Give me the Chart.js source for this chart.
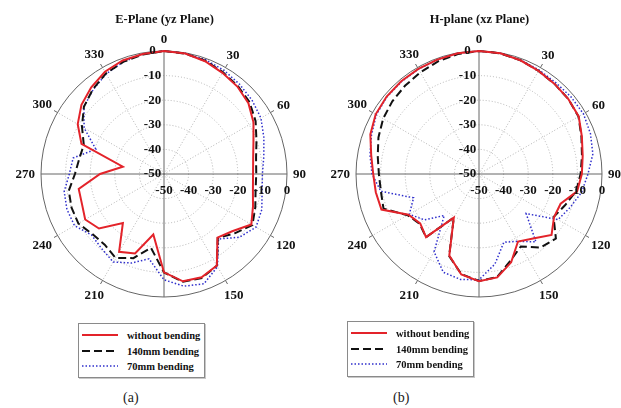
<!DOCTYPE html>
<html>
<head>
<meta charset="utf-8">
<script src="https://cdn.jsdelivr.net/npm/chart.js@4.4.1/dist/chart.umd.min.js"></script>
<style>
  body { margin: 0; background: #fff; width: 621px; height: 408px; position: relative; overflow: hidden; }
  .plot { position: absolute; top: 0; }
  .legend { position: absolute; border: 1px solid #8a8a8a; box-shadow: 1px 1px 0 #c8c8c8; background: #fff; box-sizing: border-box; }
  .legend .row { position: absolute; left: 0; height: 14px; display: flex; align-items: center; }
  .legend svg { margin-left: 3px; }
  .legend span { margin-left: 9px; font: bold 10.5px "Liberation Serif", serif; color: #111; white-space: nowrap; }
  .caption { position: absolute; top: 390px; font: 14px "Liberation Serif", serif; color: #222; }
</style>
</head>
<body>
<canvas id="ePlane" class="plot" style="left:0" width="320" height="305"></canvas>
<canvas id="hPlane" class="plot" style="left:310px" width="311" height="305"></canvas>
<div id="ePlaneLegend" class="legend" style="left:78px;top:323px;width:127px;height:55px"></div>
<div id="hPlaneLegend" class="legend" style="left:347px;top:321px;width:127px;height:56px"></div>
<div class="caption" style="left:123px">(a)</div>
<div class="caption" style="left:393px">(b)</div>
<script>
// angles in degrees, one value every 10 deg
const angles = [0, 10, 20, 30, 40, 50, 60, 70, 80, 90, 100, 110, 120, 130, 140, 150, 160, 170,
                180, 190, 200, 210, 220, 230, 240, 250, 260, 270, 280, 290, 300, 310, 320, 330, 340, 350];
const angleTicks = [0, 30, 60, 90, 120, 150, 180, 210, 240, 270, 300, 330];
const radialTicks = [-50, -40, -30, -20, -10, 0];
const seriesNames = ['without bending', '140mm bending', '70mm bending'];

// E-plane (yz plane), dB
const eWithout = [0, -0.3, -1.2, -2.5, -3.6, -5.2, -8, -11.3, -13.2, -13.8, -13.3, -11.5, -9, -13.8, -16.2, -7, -5.3, -5.7,
                  -10, -25, -15.6, -13.5, -24, -15.5, -13, -14.5, -14.8, -24, -33, -14.3, -9.5, -6.2, -4, -2, -0.9, -0.5];
const e140mm   = [0, -0.3, -1, -2.2, -3.3, -4.6, -7, -10, -12, -12.5, -12.2, -10.5, -8.5, -12.5, -16, -7, -5, -5.5,
                  -10, -19.5, -13.6, -10.6, -12.5, -12, -9.8, -10, -10.7, -13.8, -15, -15.3, -11.5, -7.5, -5, -2.8, -1.5, -0.7];
const e70mm    = [0, -0.2, -0.6, -1.3, -2.3, -3.3, -4.5, -6.8, -8.8, -10, -9.5, -7.7, -6.8, -10, -15.5, -6.5, -2.5, -3.7,
                  -7, -15, -11.5, -8.7, -10.5, -11.5, -8, -8, -8.8, -11.5, -12.5, -20.5, -12.5, -7.5, -5.2, -3, -1.5, -0.5];

// H-plane (xz plane), dB
const hWithout = [0, -0.2, -0.8, -1.6, -2.2, -2.6, -3.2, -5.5, -7.2, -8.2, -9.5, -14.7, -14.8, -11.5, -15.8, -18.3, -11.8, -7.3,
                  -6.4, -8.5, -14.7, -29.5, -16.5, -18.8, -16.9, -7.8, -7.4, -7, -5.5, -3, -1.5, -1, -0.8, -0.7, -0.5, -0.2];
const h140mm   = [0, -0.2, -0.8, -1.6, -2.2, -2.6, -3.3, -5.7, -7.5, -8.7, -9.9, -12.8, -15, -9.2, -11, -16, -12.5, -7.5,
                  -6.5, -8.7, -14.5, -29.5, -16.5, -18.5, -16.5, -8.7, -9.5, -9.3, -8.2, -6.5, -5, -4, -3.2, -2.3, -1.3, -0.5];
const h70mm    = [0, -0.2, -0.6, -1.2, -1.5, -1.2, -1, -1.8, -3, -5.7, -7.6, -10.5, -12.9, -25, -14, -18.4, -20.5, -12.8,
                  -7, -6.5, -7.5, -13.5, -28, -21, -17.3, -21.7, -9.5, -6.5, -5, -3.5, -1.8, -1.2, -1, -0.8, -0.5, -0.2];

const styles = [
    { borderColor: '#e3232a', borderWidth: 2, borderDash: [] },
    { borderColor: '#111111', borderWidth: 2, borderDash: [8, 4] },
    { borderColor: '#2f2fcc', borderWidth: 1.5, borderDash: [1.5, 2] }
];

const labelFont = 'bold 13px "Liberation Serif", serif';

// circle border, axes, tick marks and all the polar labels
const polarDecor = {
    id: 'polarDecor',
    beforeDatasetsDraw(chart) {
        const s = chart.scales.r;
        const ctx = chart.ctx;
        const R = s.drawingArea;
        ctx.save();
        ctx.strokeStyle = '#666';
        ctx.lineWidth = 1;
        ctx.beginPath();
        ctx.arc(s.xCenter, s.yCenter, R, 0, Math.PI * 2);
        ctx.stroke();
        angleTicks.forEach((a) => {
            const i = angles.indexOf(a);
            const from = s.getPointPosition(i, a % 90 === 0 ? 0 : R);
            const to = s.getPointPosition(i, a % 90 === 0 ? R : R + 4);
            ctx.beginPath();
            ctx.moveTo(from.x, from.y);
            ctx.lineTo(to.x, to.y);
            ctx.stroke();
        });
        ctx.restore();
    },
    afterDraw(chart) {
        const s = chart.scales.r;
        const ctx = chart.ctx;
        const R = s.drawingArea;
        ctx.save();
        ctx.font = labelFont;
        ctx.fillStyle = '#111';
        ctx.textAlign = 'center';
        ctx.textBaseline = 'middle';
        // angle labels round the outside
        angleTicks.forEach((a) => {
            const i = angles.indexOf(a);
            const txt = String(a);
            const w = ctx.measureText(txt).width;
            const rad = a * Math.PI / 180;
            const half = Math.abs(Math.sin(rad)) * w / 2 + Math.abs(Math.cos(rad)) * 6.5;
            const p = s.getPointPosition(i, R + 6 + half);
            ctx.fillText(txt, p.x, p.y + 1);
        });
        // dB labels, up the vertical axis and along the horizontal one
        radialTicks.forEach((v) => {
            const d = s.getDistanceFromCenterForValue(v);
            ctx.fillText(String(v), s.xCenter - 11.5, s.yCenter - d);
            ctx.fillText(String(v), s.xCenter + d, s.yCenter + 17);
        });
        ctx.restore();
    }
};

function buildLegend(chart, el) {
    const rowCenters = [12, 28, 43];
    el.innerHTML = '';
    chart.data.datasets.forEach((ds, k) => {
        const row = document.createElement('div');
        row.className = 'row';
        row.style.top = (rowCenters[k] - 8) + 'px';
        row.innerHTML =
            '<svg width="36" height="6"><line x1="0" y1="3" x2="36" y2="3" stroke="' + ds.borderColor +
            '" stroke-width="' + ds.borderWidth + '" stroke-dasharray="' + (ds.borderDash.join(' ') || 'none') +
            '"/></svg><span>' + ds.label + '</span>';
        el.appendChild(row);
    });
}

function makePlot(id, title, series, pad) {
    const chart = new Chart(document.getElementById(id), {
        type: 'radar',
        data: {
            labels: angles,
            datasets: series.map((values, k) => Object.assign({
                label: seriesNames[k],
                data: values,
                fill: false,
                tension: 0,
                pointRadius: 0,
                pointHoverRadius: 0
            }, styles[k]))
        },
        options: {
            responsive: false,
            animation: false,
            events: [],
            layout: { padding: pad },
            plugins: {
                legend: { display: false },
                tooltip: { enabled: false },
                title: {
                    display: true,
                    text: title,
                    color: '#111',
                    font: { family: 'Liberation Serif', size: 12.5, weight: 'bold' },
                    padding: { top: 0, bottom: 24 }
                }
            },
            scales: {
                r: {
                    min: -50,
                    max: 0,
                    startAngle: 0,
                    ticks: { display: false, stepSize: 10 },
                    pointLabels: { display: false },
                    grid: {
                        circular: true,
                        lineWidth: 1,
                        color: (c) => (c.tick && c.tick.value > -50 && c.tick.value < 0) ? '#b3b3b3' : 'transparent'
                    },
                    border: { dash: [1, 2] },
                    angleLines: {
                        lineWidth: 1,
                        borderDash: [1, 2],
                        color: (c) => (c.index % 3 === 0 && c.index % 9 !== 0) ? '#b3b3b3' : 'transparent'
                    }
                }
            }
        },
        plugins: [polarDecor]
    });
    buildLegend(chart, document.getElementById(id + 'Legend'));
    return chart;
}

makePlot('ePlane', 'E-Plane (yz Plane)', [eWithout, e140mm, e70mm], { top: 12, left: 41, right: 32, bottom: 7 });
makePlot('hPlane', 'H-plane (xz Plane)', [hWithout, h140mm, h70mm], { top: 12, left: 46, right: 18, bottom: 7 });
</script>
</body>
</html>
